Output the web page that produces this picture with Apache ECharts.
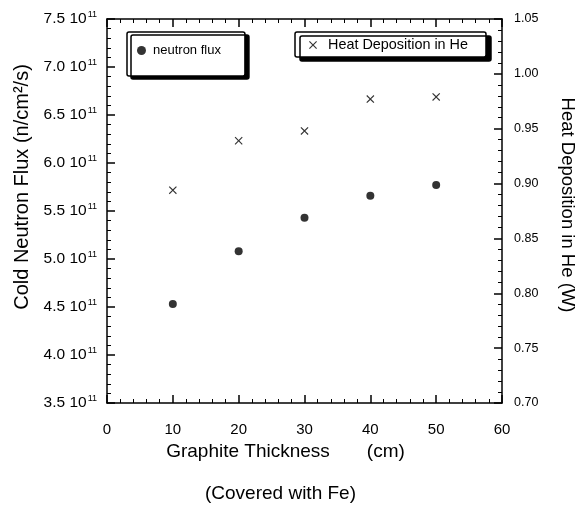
<!DOCTYPE html>
<html>
<head>
<meta charset="utf-8">
<script src="https://cdn.jsdelivr.net/npm/echarts@6/dist/echarts.min.js"></script>
<style>
  html, body { margin: 0; padding: 0; background: #fff; }
  #chart { width: 580px; height: 505px; }
</style>
</head>
<body>
<div id="chart"></div>
<script>
// graphite thickness (cm)
var thickness = [10, 20, 30, 40, 50]
// cold neutron flux, in units of 10^11 n/cm2/s
var fluxE11 = [4.53, 5.08, 5.43, 5.66, 5.77]
// heat deposition in He (W)
var heatW = [0.894, 0.939, 0.948, 0.977, 0.979]

var fluxPts = thickness.map(function (t, i) { return [t, fluxE11[i]] })
var heatPts = thickness.map(function (t, i) { return [t, heatW[i]] })

var font = 'Liberation Sans, Arial, Helvetica, sans-serif'
var crossPath = 'path://M0,1L1,0L5,4L9,0L10,1L6,5L10,9L9,10L5,6L1,10L0,9L4,5Z'

// fresh objects for each axis so nothing is shared between them
function line() { return { show: true, onZero: false, lineStyle: { color: '#000', width: 1.5 } } }
function tick() { return { show: true, inside: true, length: 8, lineStyle: { color: '#000', width: 1.5 } } }
function minor() { return { show: true, splitNumber: 5, length: 4, lineStyle: { color: '#000', width: 1 } } }

var chart = echarts.init(document.getElementById('chart'))
chart.setOption({
    animation: false,
    textStyle: { fontFamily: font },
    grid: { left: 107, right: 78, top: 19, bottom: 102, outerBoundsMode: 'none', containLabel: false },
    title: {
        text: '(Covered with Fe)',
        left: 200,
        top: 479,
        textStyle: { fontFamily: font, fontSize: 19, fontWeight: 'normal', color: '#000' }
    },
    legend: [
        {
            data: [{ name: 'neutron flux', icon: 'circle' }],
            left: 127,
            top: 32,
            itemWidth: 9,
            itemHeight: 9,
            padding: [12, 24, 19, 10],
            backgroundColor: '#fff',
            borderColor: '#000',
            borderWidth: 1.5,
            borderRadius: 2,
            shadowColor: '#000',
            shadowBlur: 0,
            shadowOffsetX: 4,
            shadowOffsetY: 3,
            textStyle: { fontFamily: font, fontSize: 13, color: '#000', padding: [0, 0, 0, 2] }
        },
        {
            data: [{ name: 'Heat Deposition in He', icon: crossPath }],
            left: 295,
            top: 32,
            itemWidth: 8,
            itemHeight: 8,
            padding: [6, 18, 5, 14],
            backgroundColor: '#fff',
            borderColor: '#000',
            borderWidth: 1.5,
            borderRadius: 2,
            shadowColor: '#000',
            shadowBlur: 0,
            shadowOffsetX: 5,
            shadowOffsetY: 4,
            textStyle: { fontFamily: font, fontSize: 14.4, color: '#000', padding: [5, 0, 0, 6] }
        }
    ],
    xAxis: [
        {
            type: 'value',
            min: 0,
            max: 60,
            interval: 10,
            position: 'bottom',
            name: 'Graphite Thickness       (cm)',
            nameLocation: 'middle',
            nameGap: 34,
            nameTextStyle: { fontFamily: font, fontSize: 19, color: '#000', padding: [0, 38, 0, 0] },
            axisLine: line(),
            axisTick: tick(),
            minorTick: minor(),
            axisLabel: { fontFamily: font, fontSize: 15, color: '#000', margin: 19 },
            splitLine: { show: false }
        },
        {
            type: 'value',
            min: 0,
            max: 60,
            interval: 10,
            position: 'top',
            axisLine: line(),
            axisTick: tick(),
            minorTick: minor(),
            axisLabel: { show: false },
            splitLine: { show: false }
        }
    ],
    yAxis: [
        {
            type: 'value',
            min: 3.5,
            max: 7.5,
            interval: 0.5,
            position: 'left',
            name: 'Cold Neutron Flux (n/cm²/s)',
            nameLocation: 'middle',
            nameGap: 74,
            nameTextStyle: { fontFamily: font, fontSize: 20, color: '#000', padding: [0, 0, 0, 48] },
            axisLine: line(),
            axisTick: tick(),
            minorTick: minor(),
            axisLabel: {
                margin: 10,
                formatter: function (v) { return '{m|' + v.toFixed(1) + ' 10}{s|11}' },
                rich: {
                    m: { fontFamily: font, fontSize: 15.5, color: '#000' },
                    s: { fontFamily: font, fontSize: 9, color: '#000', verticalAlign: 'top', padding: [0, 0, 9, 1] }
                }
            },
            splitLine: { show: false }
        },
        {
            type: 'value',
            min: 0.70,
            max: 1.05,
            interval: 0.05,
            position: 'right',
            name: 'Heat Deposition in He (W)',
            nameLocation: 'middle',
            nameRotate: -90,
            nameGap: 56,
            nameTextStyle: { fontFamily: font, fontSize: 18.5, color: '#000', padding: [0, 12, 0, 0] },
            axisLine: line(),
            axisTick: tick(),
            minorTick: minor(),
            axisLabel: {
                margin: 12,
                fontFamily: font,
                fontSize: 12.5,
                color: '#000',
                formatter: function (v) { return v.toFixed(2) }
            },
            splitLine: { show: false }
        }
    ],
    series: [
        {
            name: 'neutron flux',
            type: 'scatter',
            xAxisIndex: 0,
            yAxisIndex: 0,
            symbol: 'circle',
            symbolSize: 8,
            itemStyle: { color: '#000' },
            data: fluxPts
        },
        {
            name: 'Heat Deposition in He',
            type: 'scatter',
            xAxisIndex: 0,
            yAxisIndex: 1,
            symbol: crossPath,
            symbolSize: 8,
            itemStyle: { color: '#000' },
            data: heatPts
        }
    ]
})
</script>
</body>
</html>
